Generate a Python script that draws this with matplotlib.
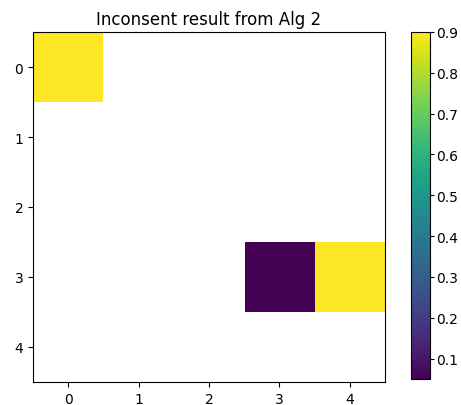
import numpy as np
import matplotlib
matplotlib.use("Agg")
import matplotlib.pyplot as plt

# Data: 5x5 grid, mostly empty (NaN)
rows = [0, 3, 3]
cols = [0, 3, 4]
values = [0.9, 0.05, 0.9]

grid = np.full((5, 5), np.nan)
for r, c, v in zip(rows, cols, values):
    grid[r, c] = v

fig = plt.figure(figsize=(4.61, 4.06), dpi=100)
ax = fig.add_axes([33 / 461, 23 / 406, 352 / 461, 350 / 406])
cax = fig.add_axes([411 / 461, 26 / 406, 19 / 461, 347 / 406])

im = ax.imshow(grid, cmap="viridis", aspect="auto")
ax.set_xticks(range(5))
ax.set_yticks(range(5))
ax.set_title("Inconsent result from Alg 2")

cb = fig.colorbar(im, cax=cax)
cb.set_ticks([0.1, 0.2, 0.3, 0.4, 0.5, 0.6, 0.7, 0.8, 0.9])
cb.ax.tick_params(pad=1.5, length=3)

fig.savefig("out.png", dpi=100)
